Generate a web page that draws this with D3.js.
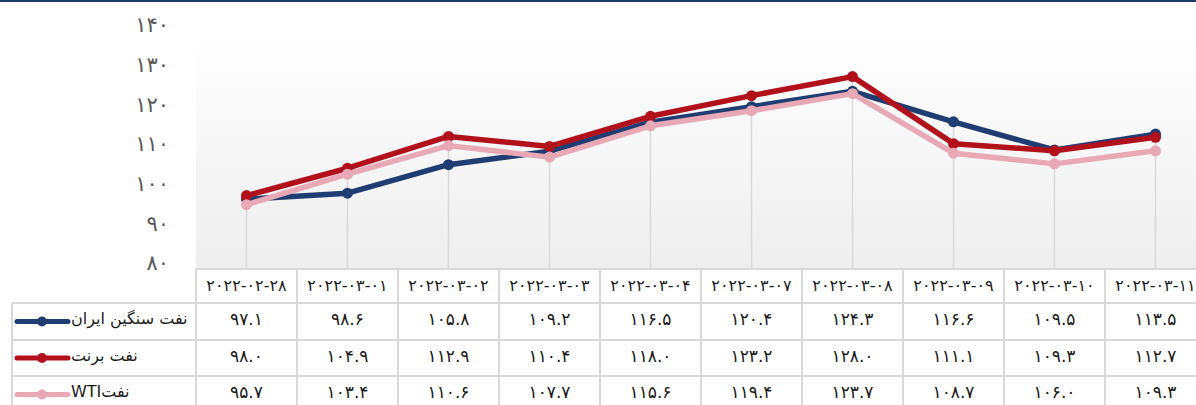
<!DOCTYPE html>
<html>
<head>
<meta charset="utf-8">
<script src="https://cdn.jsdelivr.net/npm/d3@7"></script>
<style>
  body { margin: 0; background: #fff; }
  svg { display: block; font-family: "DejaVu Sans", sans-serif; }
</style>
</head>
<body>
<svg width="1196" height="405"></svg>
<script>
// chart values
var dates = ["۲۰۲۲-۰۲-۲۸", "۲۰۲۲-۰۳-۰۱", "۲۰۲۲-۰۳-۰۲", "۲۰۲۲-۰۳-۰۳", "۲۰۲۲-۰۳-۰۴",
             "۲۰۲۲-۰۳-۰۷", "۲۰۲۲-۰۳-۰۸", "۲۰۲۲-۰۳-۰۹", "۲۰۲۲-۰۳-۱۰", "۲۰۲۲-۰۳-۱۱"];
var iranHeavy = [97.1, 98.6, 105.8, 109.2, 116.5, 120.4, 124.3, 116.6, 109.5, 113.5];
var brent     = [98.0, 104.9, 112.9, 110.4, 118.0, 123.2, 128.0, 111.1, 109.3, 112.7];
var wti       = [95.7, 103.4, 110.6, 107.7, 115.6, 119.4, 123.7, 108.7, 106.0, 109.3];
var seriesNames = ["نفت سنگین ایران", "نفت برنت", " WTIنفت"];
var yTicks = [80, 90, 100, 110, 120, 130, 140];

var series = [
  {name: seriesNames[0], values: iranHeavy, color: "#1f3d73"},
  {name: seriesNames[1], values: brent, color: "#b2111c"},
  {name: seriesNames[2], values: wti, color: "#e9a8b5"}
];

var faDigits = "۰۱۲۳۴۵۶۷۸۹";
function fa(s) { return String(s).replace(/[0-9]/g, function(c) { return faDigits[+c]; }); }

var svg = d3.select("svg");

var x = d3.scaleBand().domain(dates).range([196, 1206]).padding(0);
var y = d3.scaleLinear().domain([80, 140]).range([267, 29]);
function cx(d) { return x(d) + x.bandwidth() / 2; }

// top bar
svg.append("rect").attr("x", 0).attr("y", 0).attr("width", 1196).attr("height", 2).attr("fill", "#1f3a6b");

// plot background gradient
var grad = svg.append("defs").append("linearGradient")
    .attr("id", "bg").attr("x1", 0).attr("y1", 0).attr("x2", 0).attr("y2", 1);
grad.append("stop").attr("offset", "0%").attr("stop-color", "#ffffff");
grad.append("stop").attr("offset", "100%").attr("stop-color", "#eeeeee");
svg.append("rect").attr("x", 196).attr("y", 29).attr("width", 1000).attr("height", 240)
    .attr("fill", "url(#bg)");

// y axis labels
svg.append("g").selectAll("text")
    .data(yTicks)
    .enter().append("text")
    .attr("x", 169)
    .attr("y", function(d) { return y(d) - 4; })
    .attr("dy", "0.35em")
    .attr("text-anchor", "end")
    .attr("font-size", 21)
    .attr("fill", "#595959")
    .text(function(d) { return fa(d); });

// drop lines
svg.append("g").selectAll("line")
    .data(dates)
    .enter().append("line")
    .attr("x1", cx).attr("x2", cx)
    .attr("y1", function(d, i) { return y(d3.max(series, function(s) { return s.values[i]; })); })
    .attr("y2", 269)
    .attr("stroke", "#d9d9d9")
    .attr("stroke-width", 1.5);

// lines
var line = d3.line()
    .x(function(d, i) { return cx(dates[i]); })
    .y(function(d) { return y(d); });

series.forEach(function(s) {
  svg.append("path")
      .datum(s.values)
      .attr("d", line)
      .attr("fill", "none")
      .attr("stroke", s.color)
      .attr("stroke-width", 5.5)
      .attr("stroke-linejoin", "round");
  svg.append("g").selectAll("circle")
      .data(s.values)
      .enter().append("circle")
      .attr("cx", function(d, i) { return cx(dates[i]); })
      .attr("cy", function(d) { return y(d); })
      .attr("r", 5.5)
      .attr("fill", s.color);
});

// data table
var gridColor = "#d9d9d9";
var rowTops = [269, 303, 340, 376, 413];
var table = svg.append("g");

// header cells
table.selectAll(".hdr")
    .data(dates)
    .enter().append("text")
    .attr("class", "hdr")
    .attr("x", cx)
    .attr("y", (rowTops[0] + rowTops[1]) / 2 - 1)
    .attr("dy", "0.35em")
    .attr("text-anchor", "middle")
    .attr("direction", "ltr")
    .attr("font-size", 16)
    .attr("fill", "#1a1a1a")
    .text(function(d) { return d; });

// horizontal rules
table.append("line").attr("x1", 196).attr("x2", 1196).attr("y1", rowTops[0]).attr("y2", rowTops[0])
    .attr("stroke", gridColor).attr("stroke-width", 2);
rowTops.slice(1, 4).forEach(function(t) {
  table.append("line").attr("x1", 12).attr("x2", 1196).attr("y1", t).attr("y2", t)
      .attr("stroke", gridColor).attr("stroke-width", 2);
});
// vertical rules
table.append("line").attr("x1", 12).attr("x2", 12).attr("y1", rowTops[1]).attr("y2", 405)
    .attr("stroke", gridColor).attr("stroke-width", 2);
dates.forEach(function(d) {
  table.append("line").attr("x1", x(d)).attr("x2", x(d)).attr("y1", rowTops[0]).attr("y2", 405)
      .attr("stroke", gridColor).attr("stroke-width", 2);
});

// rows
series.forEach(function(s, r) {
  var mid = (rowTops[r + 1] + rowTops[r + 2]) / 2;
  table.append("line").attr("x1", 17).attr("x2", 68).attr("y1", mid).attr("y2", mid)
      .attr("stroke", s.color).attr("stroke-width", 5).attr("stroke-linecap", "round");
  table.append("circle").attr("cx", 42).attr("cy", mid).attr("r", 5).attr("fill", s.color);
  table.append("text")
      .attr("x", 71).attr("y", mid - 3)
      .attr("dy", "0.35em")
      .attr("text-anchor", "start")
      .attr("font-size", 16)
      .attr("fill", "#1a1a1a")
      .text(s.name);
  table.append("g").selectAll("text")
      .data(s.values)
      .enter().append("text")
      .attr("x", function(d, i) { return cx(dates[i]); })
      .attr("y", mid - 2)
      .attr("dy", "0.35em")
      .attr("text-anchor", "middle")
      .attr("direction", "ltr")
      .attr("font-size", 17)
      .attr("fill", "#1a1a1a")
      .text(function(d) { return fa(d.toFixed(1)); });
});
</script>
</body>
</html>
